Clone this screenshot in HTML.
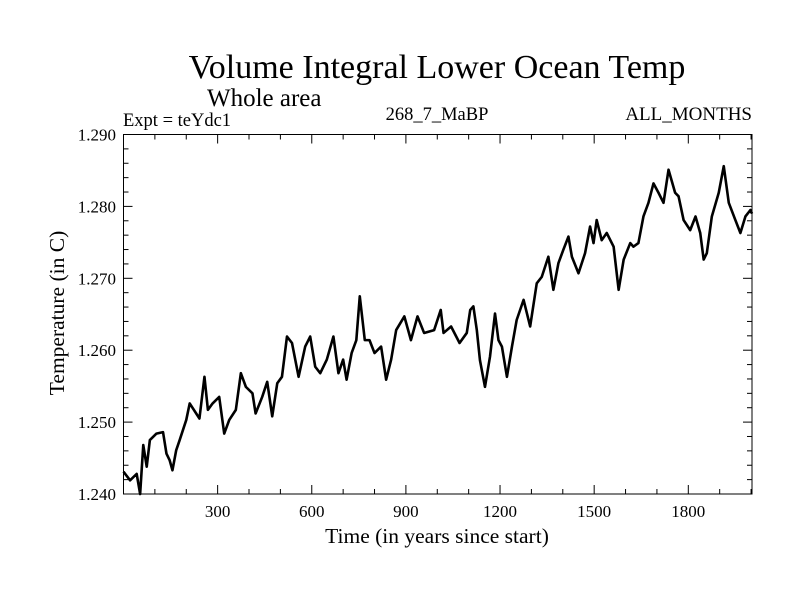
<!DOCTYPE html>
<html><head><meta charset="utf-8"><style>
body{margin:0;background:#fff}
svg text{font-family:"Liberation Serif",serif;fill:#000}
</style></head><body>
<svg id="chart" width="800" height="600" viewBox="0 0 800 600">
<text x="437" y="78" font-size="34" text-anchor="middle">Volume Integral Lower Ocean Temp</text>
<text x="207" y="106" font-size="25">Whole area</text>
<text x="123" y="126" font-size="18.5">Expt = teYdc1</text>
<text x="437" y="120" font-size="18.5" text-anchor="middle">268_7_MaBP</text>
<text x="752" y="120" font-size="19" text-anchor="end">ALL_MONTHS</text>
<text x="437" y="543" font-size="21.5" text-anchor="middle">Time (in years since start)</text>
<text x="0" y="0" font-size="21.5" text-anchor="middle" transform="translate(64,313) rotate(-90)">Temperature (in C)</text>
<g id="ticks"></g>
<g id="plot"></g>
<rect x="123.5" y="134.5" width="628.5" height="359.5" fill="none" stroke="#000" stroke-width="1"/>
</svg>
<script>
const years=[0,21,42,53,63,74,84,105,126,137,147,156,168,179,200,211,242,258,269,284,305,321,337,358,374,390,411,421,442,458,474,490,505,521,537,558,579,595,611,627,648,669,685,700,711,727,742,753,769,784,800,821,837,853,869,895,916,937,958,990,1011,1020,1044,1071,1094,1105,1115,1126,1136,1152,1168,1184,1195,1206,1222,1238,1253,1275,1296,1317,1333,1354,1370,1386,1402,1418,1429,1450,1471,1487,1498,1508,1524,1540,1562,1578,1594,1615,1625,1641,1657,1673,1689,1705,1721,1737,1758,1769,1785,1806,1823,1838,1849,1859,1875,1897,1913,1929,1950,1966,1982,1998,2003];
const temps=[1.2431,1.2419,1.2428,1.2400,1.2468,1.2438,1.2475,1.2484,1.2486,1.2456,1.2447,1.2433,1.2461,1.2475,1.2503,1.2526,1.2505,1.2563,1.2517,1.2526,1.2535,1.2484,1.2503,1.2517,1.2568,1.2549,1.2540,1.2512,1.2535,1.2556,1.2508,1.2554,1.2563,1.2619,1.2610,1.2563,1.2605,1.2619,1.2577,1.2568,1.2587,1.2619,1.2568,1.2587,1.2559,1.2596,1.2614,1.2675,1.2614,1.2614,1.2596,1.2605,1.2559,1.2587,1.2628,1.2647,1.2614,1.2647,1.2624,1.2628,1.2656,1.2624,1.2633,1.2610,1.2624,1.2656,1.2661,1.2628,1.2586,1.2549,1.2591,1.2651,1.2614,1.2605,1.2563,1.2605,1.2642,1.2670,1.2633,1.2693,1.2702,1.2730,1.2684,1.2721,1.2740,1.2758,1.2730,1.2707,1.2735,1.2772,1.2749,1.2781,1.2753,1.2763,1.2744,1.2684,1.2726,1.2749,1.2744,1.2749,1.2786,1.2805,1.2832,1.2819,1.2805,1.2851,1.2819,1.2814,1.2781,1.2767,1.2786,1.2763,1.2726,1.2735,1.2786,1.2819,1.2856,1.2805,1.2781,1.2763,1.2786,1.2795,1.2790,1.2818];
const xTicks=[300,600,900,1200,1500,1800];
const yTicks=[1.240,1.250,1.260,1.270,1.280,1.290];
const X0=123.5,X1=752,Y0=494,Y1=134.5,XMIN=0,XMAX=2003,YMIN=1.24,YMAX=1.29;
const sx=v=>X0+(v-XMIN)/(XMAX-XMIN)*(X1-X0);
const sy=v=>Y0-(v-YMIN)/(YMAX-YMIN)*(Y0-Y1);
const NS='http://www.w3.org/2000/svg';
const tg=document.getElementById('ticks'),pg=document.getElementById('plot');
function line(x1,y1,x2,y2,g){const l=document.createElementNS(NS,'line');l.setAttribute('x1',x1);l.setAttribute('y1',y1);l.setAttribute('x2',x2);l.setAttribute('y2',y2);l.setAttribute('stroke','#000');l.setAttribute('stroke-width','1');g.appendChild(l);return l;}
for(let v=100;v<XMAX;v+=100){const x=sx(v);const L=(v%300===0)?9:5;
 const a=line(x,Y0,x,Y0-L,tg);
 
 
 const b=line(x,Y1,x,Y1+L,tg);
 
 }
for(let i=0;i<=25;i++){const v=YMIN+i*0.002;const y=sy(v);const L=(i%5===0)?9:5;
 const a=line(X0,y,X0+L,y,tg);
 
 
 const b=line(X1,y,X1-L,y,tg);
 
 }
xTicks.forEach(v=>{const t=document.createElementNS(NS,'text');t.setAttribute('x',sx(v));t.setAttribute('y',517);t.setAttribute('font-size','17');t.setAttribute('text-anchor','middle');t.textContent=v;
 
 
 tg.appendChild(t);});
yTicks.forEach(v=>{const t=document.createElementNS(NS,'text');t.setAttribute('x',116);t.setAttribute('y',sy(v)+6);t.setAttribute('font-size','17');t.setAttribute('text-anchor','end');t.textContent=v.toFixed(3);
 
 
 tg.appendChild(t);});
const p=document.createElementNS(NS,'polyline');
p.setAttribute('points',years.map((y,i)=>sx(y)+','+sy(temps[i])).join(' '));
p.setAttribute('fill','none');p.setAttribute('stroke','#000');p.setAttribute('stroke-width','2.6');p.setAttribute('stroke-linejoin','round');


pg.appendChild(p);
</script>
</body></html>
